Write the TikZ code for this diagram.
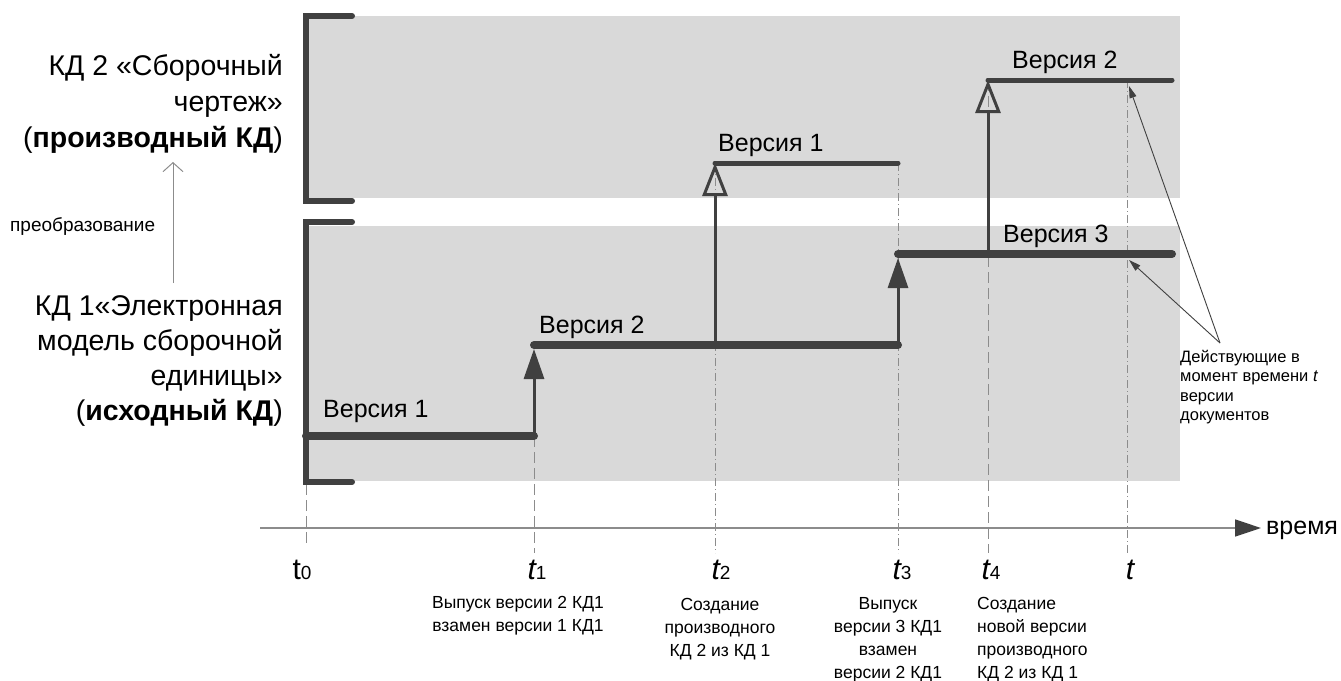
\documentclass[tikz,border=0pt]{standalone}
\usepackage{fontspec}
\setmainfont{Liberation Sans}
\usetikzlibrary{arrows.meta}

\definecolor{ink}{HTML}{404040}
\definecolor{band}{HTML}{D9D9D9}
\definecolor{guide}{HTML}{8C8C8C}

% moment label: italic t with a small upright index
\newcommand{\tmark}[2]{{\fontsize{30}{30}\selectfont#1}{\fontsize{19}{19}\selectfont#2}}

\begin{document}
\begin{tikzpicture}[x=1pt,y=-1pt]
    % moments on the time axis
    \def\tz{306}
    \def\ta{534}
    \def\tb{715}
    \def\tc{898}
    \def\td{988}
    \def\tn{1127}
    % levels of the version lines
    \def\ya{436}
    \def\yb{345}
    \def\yc{254}
    \def\yu{163}
    \def\yv{80}
    \def\yax{528}

    \tikzset{
        doc/.style={font=\fontsize{28.5}{36}\selectfont, align=right, anchor=east, inner sep=0pt},
        ver/.style={font=\fontsize{25}{30}\selectfont, inner sep=0pt, anchor=base west},
        event/.style={font=\fontsize{17.5}{23}\selectfont, align=center, inner sep=0pt, anchor=north},
        tlbl/.style={inner sep=0pt, anchor=base},
        bracket/.style={ink, line width=6pt, line cap=round, line join=miter},
        main/.style={ink, line width=8pt, line cap=round},
        derived/.style={ink, line width=5pt, line cap=round},
        rise/.style={ink, line width=3pt, -{Triangle[length=30pt,width=20pt]}},
        derive/.style={ink, line width=3pt, -{Triangle[open,length=33pt,width=25pt]}},
        dashguide/.style={guide, line width=1pt, dash pattern=on 11pt off 5pt},
        dotguide/.style={guide, line width=1pt, dash pattern=on 8pt off 3pt on 1pt off 3pt},
        pointer/.style={ink, line width=0.9pt, -{Triangle[length=12pt,width=7pt]}}
    }

    \fill[white] (0,0) rectangle (1341,680);
    \useasboundingbox (0,0) rectangle (1341,680);

    % bands of the two documents
    \fill[band] (306,16) rectangle (1180,198);
    \fill[band] (306,226) rectangle (1180,481);

    % guide lines down to the axis
    \draw[dashguide] (\tz,484) -- (\tz,547);
    \draw[dashguide] (\ta,\ya) -- (\ta,553);
    \draw[dotguide]  (\tb,\yu) -- (\tb,553);
    \draw[dotguide]  (\tc,\yu) -- (\tc,553);
    \draw[dashguide] (\td,\yv) -- (\td,553);
    \draw[dotguide]  (\tn,\yv) -- (\tn,553);

    % brackets
    \draw[bracket] (352,16) -- (306,16) -- (306,201) -- (352,201);
    \draw[bracket] (352,222) -- (306,222) -- (306,482) -- (352,482);

    % versions of КД 1
    \draw[main] (\tz,\ya) -- (\ta,\ya);
    \draw[main] (\ta,\yb) -- (\tc,\yb);
    \draw[main] (\tc,\yc) -- (1172,\yc);
    % versions of КД 2
    \draw[derived] (\tb,\yu) -- (\tc,\yu);
    \draw[derived] (\td,\yv) -- (1172,\yv);

    % events
    \coordinate (e1a) at (\ta,\ya);
    \coordinate (e1b) at (\ta,\yb+4);
    \coordinate (e2a) at (\tb,\yb);
    \coordinate (e2b) at (\tb,\yu);
    \coordinate (e3a) at (\tc,\yb);
    \coordinate (e3b) at (\tc,\yc+4);
    \coordinate (e4a) at (\td,\yc);
    \coordinate (e4b) at (\td,\yv);
    \draw[rise] (e1a) -- (e1b);
    \draw[rise] (e3a) -- (e3b);
    \draw[derive] (e2a) -- (e2b);
    \draw[derive] (e4a) -- (e4b);

    \node[ver] (v11) at (323,417) {Версия 1};
    \node[ver] (v12) at (539,333) {Версия 2};
    \node[ver] (v13) at (1003,242) {Версия 3};
    \node[ver] (v21) at (718,151) {Версия 1};
    \node[ver] (v22) at (1012,68) {Версия 2};

    % documents
    \node[doc] (kd2) at (283,104) {КД 2 «Сборочный\\чертеж»\\(\textbf{производный КД})};
    \node[doc, font=\fontsize{28.5}{35}\selectfont] (kd1) at (283,361)
        {КД 1«Электронная\\модель сборочной\\единицы»\\(\textbf{исходный КД})};
    \coordinate (convA) at (173,283);
    \coordinate (convB) at (173,162);
    \draw[guide, line width=1pt, -{Straight Barb[length=9pt,width=20pt]}] (convA) -- (convB);
    \node[anchor=west, inner sep=0pt, font=\fontsize{19}{19}\selectfont] (conv) at (10,227) {преобразование};

    % time axis
    \coordinate (ax0) at (260,\yax);
    \coordinate (ax1) at (1261,\yax);
    \draw[guide, line width=1.5pt, -{Triangle[length=26pt,width=17pt,color=ink]}] (ax0) -- (ax1);
    \node[anchor=base west, inner sep=0pt, font=\fontsize{25}{25}\selectfont] (time) at (1266,534) {время};

    \node[tlbl] (l0) at (\tz-4,579) {\tmark{t}{0}};
    \node[tlbl] (l1) at (\ta+3,579) {\tmark{\itshape t}{1}};
    \node[tlbl] (l2) at (\tb+6,579) {\tmark{\itshape t}{2}};
    \node[tlbl] (l3) at (\tc+4,579) {\tmark{\itshape t}{3}};
    \node[tlbl] (l4) at (\td+3,579) {\tmark{\itshape t}{4}};
    \node[tlbl] (ln) at (\tn+3,579) {\tmark{\itshape t}{}};

    \node[event] (n1) at (518,596) {Выпуск версии 2 КД1\\взамен версии 1 КД1};
    \node[event] (n2) at (720,598) {Создание\\производного\\КД 2 из КД 1};
    \node[event] (n3) at (888,597) {Выпуск\\версии 3 КД1\\взамен\\версии 2 КД1};
    \node[event, align=left, anchor=north west] (n4) at (977,597) {Создание\\новой версии\\производного\\КД 2 из КД 1};

    % versions in force at moment t
    \node[anchor=north west, align=left, inner sep=0pt, font=\fontsize{16.5}{19.5}\selectfont] (note) at (1180,350)
        {Действующие в\\момент времени \textit{t}\\версии\\документов};
    \coordinate (hub) at (1220,343);
    \coordinate (cur2) at (\tn+2,86);
    \coordinate (cur1) at (\tn+2,260);
    \draw[pointer] (hub) -- (cur2);
    \draw[pointer] (hub) -- (cur1);
\end{tikzpicture}
\end{document}
